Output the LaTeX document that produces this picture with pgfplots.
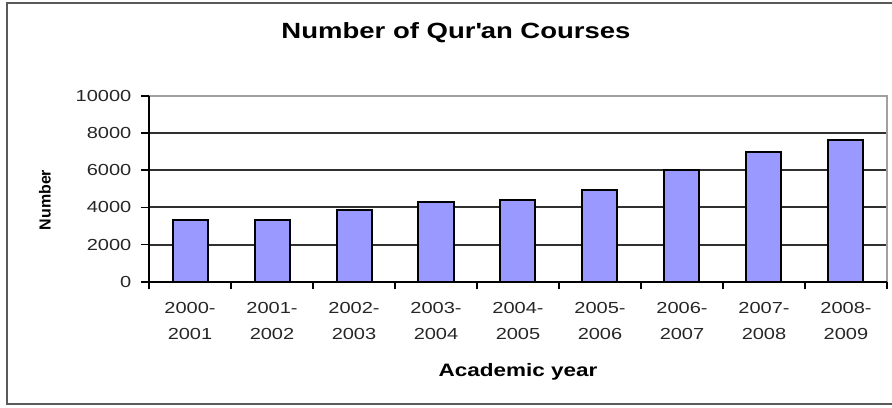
\documentclass[border=0pt]{standalone}
\usepackage{fontspec}
\setmainfont{Liberation Sans}
\newfontfamily\wf[FakeStretch=1.25]{Liberation Sans}
\usepackage{pgfplots}
\pgfplotsset{compat=1.18}
\definecolor{barblue}{HTML}{9999FF}
\definecolor{framegray}{HTML}{5A5A5A}
\definecolor{pagray}{HTML}{A0A0A0}
\definecolor{gridc}{HTML}{303030}
\begin{document}
\begin{tikzpicture}
\useasboundingbox (0,0) rectangle (446pt,203.5pt);
\draw[framegray, line width=1pt] (447pt,201.8pt) -- (3.6pt,201.8pt) -- (3.6pt,1.7pt) -- (447pt,1.7pt);
\begin{axis}[
  at={(74.5pt,62.65pt)}, anchor=south west,
  scale only axis, width=369pt, height=93pt,
  ybar, bar width=17.5pt,
  xmin=-0.5, xmax=8.5, ymin=0, ymax=10000,
  xtick={-0.5,0.5,...,8.5},
  x tick label as interval,
  xticklabels={{2000-\\2001},{2001-\\2002},{2002-\\2003},{2003-\\2004},{2004-\\2005},{2005-\\2006},{2006-\\2007},{2007-\\2008},{2008-\\2009}},
  xticklabel style={align=center, font=\wf\fontsize{8}{13}\selectfont, text=black!85, yshift=-3pt},
  ytick={0,2000,...,10000},
  yticklabel style={font=\wf\fontsize{8}{9}\selectfont, text=black!85, xshift=-1.5pt},
  scaled y ticks=false,
  /pgf/number format/assume math mode=true,
  /pgf/number format/1000 sep={},
  xtick pos=bottom, ytick pos=left,
  tick align=outside, major tick length=3.8pt,
  tick style={black, line width=0.8pt},
  ymajorgrids, major grid style={gridc, line width=1pt},
  axis line style={draw=none},
  clip=false,
]
\addplot[fill=barblue, draw=black, line width=1pt, bar shift=0pt] coordinates {
 (0,3320) (1,3330) (2,3870) (3,4300) (4,4400) (5,4950) (6,6000) (7,7000) (8,7620)
};
\draw[pagray, line width=1pt] (rel axis cs:0,1) -- (rel axis cs:1,1) -- (rel axis cs:1,0);
\draw[black, line width=1pt] (rel axis cs:0,1) -- (rel axis cs:0,0) -- (rel axis cs:1,0);
\end{axis}
\node[font=\wf\fontsize{11}{13}\selectfont\bfseries] at (228pt,187.25pt) {Number of Qur\textquotesingle an Courses};
\node[font=\wf\fontsize{9}{11}\selectfont\bfseries] at (259pt,17.5pt) {Academic year};
\node[font=\fontsize{8}{10}\selectfont\bfseries, rotate=90] at (22.5pt,103.5pt) {Number};
\end{tikzpicture}
\end{document}
